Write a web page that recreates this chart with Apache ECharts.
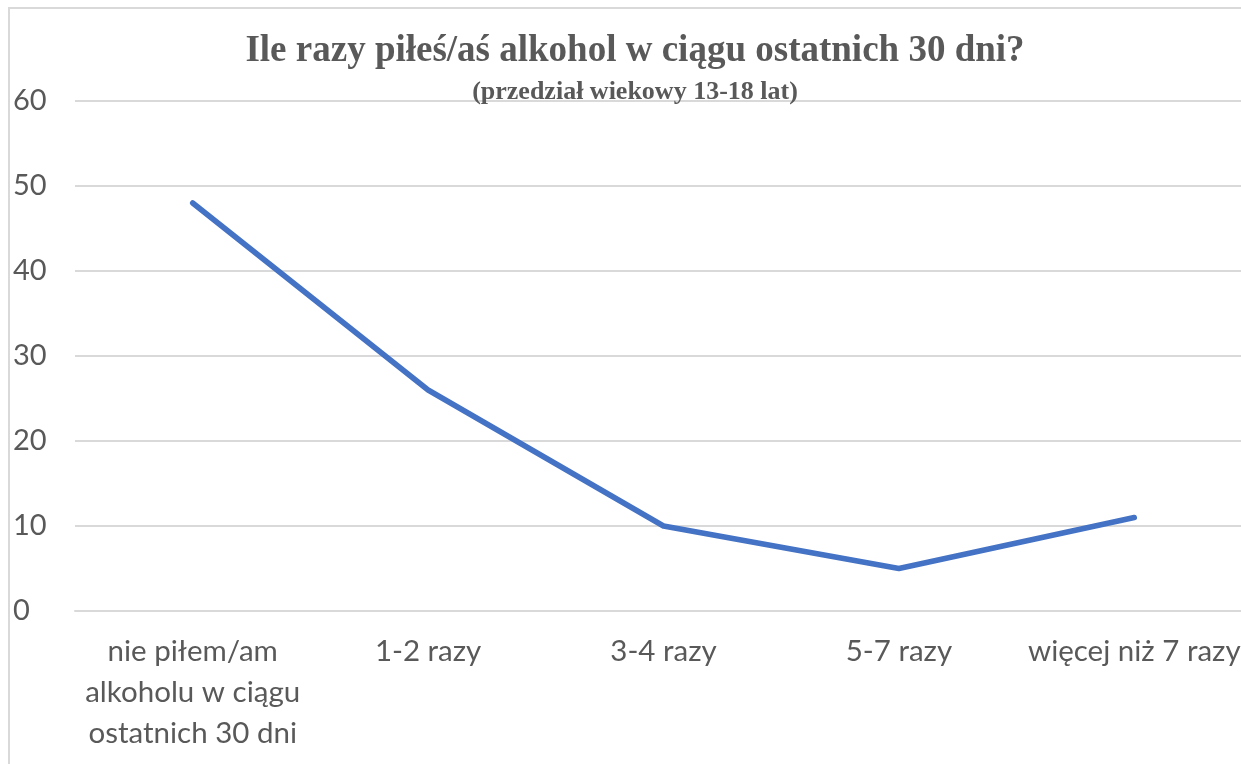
<!DOCTYPE html>
<html>
<head>
<meta charset="utf-8">
<script src="https://cdn.jsdelivr.net/npm/echarts@6/dist/echarts.min.js"></script>
<style>
  html, body { margin: 0; padding: 0; background: #fff; }
  #chart { width: 1241px; height: 764px; }
</style>
</head>
<body>
<div id="chart"></div>
<script>
var categories = ['nie piłem/am\nalkoholu w ciągu\nostatnich 30 dni', '1-2 razy', '3-4 razy', '5-7 razy', 'więcej niż 7 razy'];
var values = [48, 26, 10, 5, 11];

var dom = document.getElementById('chart');
var myChart = echarts.init(dom);

var option = {
    backgroundColor: '#fff',
    animation: false,
    title: [
        {
            text: 'Ile razy piłeś/aś alkohol w ciągu ostatnich 30 dni?',
            left: 630, top: 28, textAlign: 'center',
            textStyle: { fontFamily: 'Liberation Serif', fontWeight: 'bold', fontSize: 37, color: '#595959' }
        },
        {
            text: '(przedział wiekowy 13-18 lat)',
            left: 630, top: 74, textAlign: 'center',
            textStyle: { fontFamily: 'Liberation Serif', fontWeight: 'bold', fontSize: 26, color: '#595959' }
        }
    ],
    graphic: [{
        type: 'rect',
        shape: { x: 9, y: 8, width: 1400, height: 900 },
        style: { fill: 'none', stroke: '#d9d9d9', lineWidth: 2 },
        silent: true
    }],
    grid: { left: 75, top: 101, width: 1177, height: 510, containLabel: false, outerBoundsMode: 'none' },
    xAxis: {
        type: 'category',
        data: categories,
        boundaryGap: true,
        axisLine: { show: true, lineStyle: { color: '#d9d9d9', width: 2 } },
        axisTick: { show: false },
        axisLabel: {
            interval: 0, margin: 20, fontSize: 29.5, lineHeight: 41,
            fontFamily: 'Lato', color: '#595959'
        }
    },
    yAxis: {
        type: 'value',
        min: 0, max: 60, interval: 10,
        axisLine: { show: false },
        axisTick: { show: false },
        splitLine: { lineStyle: { color: '#d9d9d9', width: 2 } },
        axisLabel: {
            align: 'left', margin: 62, fontSize: 29,
            fontFamily: 'Lato', color: '#595959'
        }
    },
    series: [{
        type: 'line',
        data: values,
        symbol: 'none',
        lineStyle: { color: '#4472C4', width: 5.5, cap: 'round', join: 'round' }
    }]
};

myChart.setOption(option);
</script>
</body>
</html>
